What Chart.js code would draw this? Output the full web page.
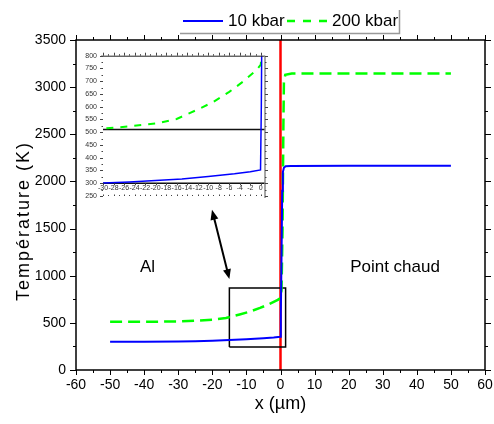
<!DOCTYPE html>
<html><head><meta charset="utf-8">
<script src="https://cdn.jsdelivr.net/npm/chart.js@4"></script>
<style>
html,body{margin:0;padding:0;background:#fff;}
#wrap{position:relative;width:494px;height:424px;overflow:hidden;}
#main{position:absolute;left:0;top:0;}
#inset{position:absolute;left:70px;top:40px;}
</style>
</head><body>
<div id="wrap"><canvas id="main" width="494" height="424"></canvas><canvas id="inset" width="210" height="170"></canvas></div>
<script>
// ---- data ----
const blueLabel = '10 kbar';
const greenLabel = '200 kbar';
const xBlue = [-50,-40,-30,-25,-20,-15,-10,-5,-2,-0.05,0.1,0.3,0.5,0.7,1,1.5,3,20,50];
const yBlue = [300,300,301,305,311,317,326,337,345,352,600,1200,1900,2100,2145,2160,2163,2165,2165];
const xGreen = [-50,-40,-30,-25,-20,-16,-12,-9,-6,-3.4,-0.8,0,0.3,0.6,0.85,1,1.4,3.3,20,50];
const yGreen = [512,512,514,523,534,552,589,619,658,698,744,765,850,1500,2600,3050,3130,3145,3145,3145];
const xRed = [0,0];
const yRed = [0,3500];
const xBox = [-15,1.5,1.5,-15,-15];
const yBox = [245,245,870,870,245];
const arrowX = [-20.1,-15.0];
const arrowY = [1700,964];
const noteText = ['Al','Point chaud'];
const noteX = [-39,33.6];
const noteY = [1084,1084];
const xRef = [-30,0.8];
const yRefLow = [300,300];
const yRefHigh = [511,511];
const yTitle = 'Température (K)';
const xTitle = 'x (µm)';

const toPts = (xs, ys) => xs.map((x, i) => ({x: x, y: ys[i]}));
const FONT = "'Liberation Sans', Arial, sans-serif";
Chart.defaults.font.family = FONT;
Chart.defaults.color = '#000';

const framePlugin = {
  id: 'frame',
  afterDraw(chart) {
    const {ctx, chartArea: a, scales: {x, y}} = chart;
    ctx.save();
    ctx.strokeStyle = '#000';
    ctx.lineWidth = 1.5;
    ctx.strokeRect(a.left, a.top, a.right - a.left, a.bottom - a.top);
    ctx.lineWidth = 1;
    ctx.beginPath();
    for (let v = x.min; v <= x.max + 1e-9; v += 5) {
      const major = Math.abs(v % 10) < 1e-9;
      const L = major ? 5 : 3;
      const px = Math.round(x.getPixelForValue(v)) + 0.5;
      ctx.moveTo(px, a.bottom); ctx.lineTo(px, a.bottom + L);
      ctx.moveTo(px, a.top); ctx.lineTo(px, a.top - L);
    }
    for (let v = y.min; v <= y.max + 1e-9; v += 250) {
      const major = Math.abs(v % 500) < 1e-9;
      const L = major ? 6 : 3;
      const py = Math.round(y.getPixelForValue(v)) + 0.5;
      ctx.moveTo(a.left, py); ctx.lineTo(a.left - L, py);
      ctx.moveTo(a.right, py); ctx.lineTo(a.right + L, py);
    }
    ctx.stroke();
    // y title
    ctx.font = '18px ' + FONT;
    ctx.letterSpacing = '2px';
    ctx.fillStyle = '#000';
    ctx.textAlign = 'center';
    ctx.textBaseline = 'middle';
    ctx.translate(24, 221);
    ctx.rotate(-Math.PI / 2);
    ctx.fillText(yTitle, 0, 0);
    ctx.restore();
  }
};

const legendPlugin = {
  id: 'customLegend',
  afterDraw(chart) {
    const ctx = chart.ctx;
    const ds = chart.data.datasets;
    ctx.save();
    ctx.strokeStyle = '#999';
    ctx.lineWidth = 1.5;
    ctx.beginPath();
    ctx.moveTo(180, 33.5); ctx.lineTo(399.5, 33.5); ctx.lineTo(399.5, 10);
    ctx.stroke();
    const items = [{d: ds[0], x0: 183, tx: 228, dash: []}, {d: ds[1], x0: 287, tx: 332, dash: [8, 8]}];
    ctx.font = '17px ' + FONT;
    ctx.textBaseline = 'middle';
    ctx.textAlign = 'left';
    items.forEach(it => {
      ctx.strokeStyle = it.d.borderColor;
      ctx.lineWidth = it.d.borderWidth;
      ctx.setLineDash(it.dash);
      ctx.beginPath();
      ctx.moveTo(it.x0, 21); ctx.lineTo(it.x0 + 40, 21);
      ctx.stroke();
      ctx.fillStyle = '#000';
      ctx.fillText(it.d.label, it.tx, 21);
    });
    ctx.restore();
  }
};

const notePlugin = {
  id: 'notes',
  afterDraw(chart) {
    const {ctx, scales: {x, y}} = chart;
    ctx.save();
    ctx.font = '17px ' + FONT;
    ctx.fillStyle = '#000';
    ctx.textAlign = 'center';
    ctx.textBaseline = 'middle';
    noteText.forEach((t, i) => ctx.fillText(t, x.getPixelForValue(noteX[i]), y.getPixelForValue(noteY[i])));
    // double arrow
    const x1 = x.getPixelForValue(arrowX[0]), y1 = y.getPixelForValue(arrowY[0]);
    const x2 = x.getPixelForValue(arrowX[1]), y2 = y.getPixelForValue(arrowY[1]);
    const ang = Math.atan2(y2 - y1, x2 - x1);
    const hl = 10, hw = 4;
    ctx.strokeStyle = '#000';
    ctx.lineWidth = 2;
    ctx.beginPath();
    ctx.moveTo(x1 + Math.cos(ang) * hl * 0.8, y1 + Math.sin(ang) * hl * 0.8);
    ctx.lineTo(x2 - Math.cos(ang) * hl * 0.8, y2 - Math.sin(ang) * hl * 0.8);
    ctx.stroke();
    const head = (px, py, a) => {
      ctx.beginPath();
      ctx.moveTo(px, py);
      ctx.lineTo(px - Math.cos(a) * hl + Math.sin(a) * hw, py - Math.sin(a) * hl - Math.cos(a) * hw);
      ctx.lineTo(px - Math.cos(a) * hl - Math.sin(a) * hw, py - Math.sin(a) * hl + Math.cos(a) * hw);
      ctx.closePath();
      ctx.fillStyle = '#000';
      ctx.fill();
    };
    head(x2, y2, ang);
    head(x1, y1, ang + Math.PI);
    ctx.restore();
  }
};

const plain = v => String(v);

new Chart(document.getElementById('main'), {
  type: 'line',
  data: {
    datasets: [
      {label: blueLabel, data: toPts(xBlue, yBlue), borderColor: '#0000ff', borderWidth: 2, pointRadius: 0, tension: 0},
      {label: greenLabel, data: toPts(xGreen, yGreen), borderColor: '#00ff00', borderWidth: 2.5, borderDash: [12, 6], pointRadius: 0, tension: 0},
      {label: 'zoom', data: toPts(xBox, yBox), borderColor: '#000', borderWidth: 1.5, pointRadius: 0, tension: 0},
      {label: 'interface', data: toPts(xRed, yRed), borderColor: '#ff0000', borderWidth: 2.5, pointRadius: 0, tension: 0}
    ]
  },
  options: {
    responsive: false,
    animation: false,
    events: [],
    layout: {padding: {left: 0, top: 40, right: 9, bottom: 0}},
    plugins: {legend: {display: false}, tooltip: {enabled: false}},
    scales: {
      x: {
        type: 'linear', min: -60, max: 60,
        ticks: {stepSize: 10, font: {size: 14}, padding: 7, color: '#000', maxRotation: 0, autoSkip: false, callback: plain},
        grid: {display: false, drawTicks: false},
        border: {display: false},
        title: {display: true, text: xTitle, font: {size: 18}, color: '#000', padding: {top: 0, bottom: 9}},
        afterFit(s) { s.height = 54; s.paddingLeft = 0; s.paddingRight = 0; }
      },
      y: {
        type: 'linear', min: 0, max: 3500,
        ticks: {stepSize: 500, font: {size: 14}, padding: 10, color: '#000', callback: plain},
        grid: {display: false, drawTicks: false},
        border: {display: false},
        afterFit(s) { s.width = 76; s.paddingTop = 0; s.paddingBottom = 0; }
      }
    }
  },
  plugins: [framePlugin, legendPlugin, notePlugin]
});

const insetFrame = {
  id: 'insetFrame',
  afterDraw(chart) {
    const {ctx, chartArea: a, scales: {x, y}} = chart;
    ctx.save();
    ctx.lineWidth = 1;
    ctx.strokeStyle = '#222';
    ctx.beginPath();
    ctx.moveTo(a.left - 2, a.top + 0.5); ctx.lineTo(a.right, a.top + 0.5);
    ctx.stroke();
    ctx.strokeStyle = '#888';
    ctx.lineWidth = 1.5;
    ctx.beginPath();
    ctx.moveTo(a.right, a.top); ctx.lineTo(a.right, a.bottom + 2);
    ctx.stroke();
    ctx.lineWidth = 1;
    ctx.strokeStyle = '#444';
    ctx.beginPath();
    for (let v = y.min; v <= y.max + 1e-9; v += 25) {
      const major = Math.abs(v % 50) < 1e-9;
      const py = Math.round(y.getPixelForValue(v)) + 0.5;
      ctx.moveTo(a.left, py); ctx.lineTo(a.left - (major ? 3 : 1.5), py);
      ctx.moveTo(a.right, py); ctx.lineTo(a.right + (major ? 3 : 1.5), py);
    }
    const base = y.getPixelForValue(yRefLow[0]);
    for (let v = x.min; v <= 0 + 1e-9; v += 1) {
      const major = Math.abs(v % 2) < 1e-9;
      const px = Math.round(x.getPixelForValue(v)) + 0.5;
      ctx.moveTo(px, a.top); ctx.lineTo(px, a.top - (major ? 3 : 1.5));
      if (major) { ctx.moveTo(px, base); ctx.lineTo(px, base + 2); }
      ctx.moveTo(px, a.bottom); ctx.lineTo(px, a.bottom - (major ? 1.5 : 1));
    }
    ctx.stroke();
    ctx.restore();
  }
};

new Chart(document.getElementById('inset'), {
  type: 'line',
  data: {
    datasets: [
      {label: blueLabel, data: toPts(xBlue, yBlue), borderColor: '#0000ff', borderWidth: 1.5, pointRadius: 0, tension: 0},
      {label: greenLabel, data: toPts(xGreen, yGreen), borderColor: '#00ff00', borderWidth: 2, borderDash: [7, 7], pointRadius: 0, tension: 0},
      {label: 'ref300', data: toPts(xRef, yRefLow), borderColor: '#111', borderWidth: 1.5, pointRadius: 0},
      {label: 'ref511', data: toPts(xRef, yRefHigh), borderColor: '#111', borderWidth: 1.5, pointRadius: 0}
    ]
  },
  options: {
    responsive: false,
    animation: false,
    events: [],
    layout: {padding: {left: 0, top: 15.7, right: 15, bottom: 14}},
    plugins: {legend: {display: false}, tooltip: {enabled: false}},
    scales: {
      x: {
        type: 'linear', min: -30, max: 0.8, position: {y: 300},
        ticks: {stepSize: 2, includeBounds: false, autoSkip: false, maxRotation: 0, font: {size: 7}, padding: 1, color: '#333', callback: plain},
        grid: {display: false, drawTicks: false},
        border: {display: false},
        afterFit(s) { s.paddingLeft = 0; s.paddingRight = 0; }
      },
      y: {
        type: 'linear', min: 250, max: 800,
        ticks: {stepSize: 50, autoSkip: false, font: {size: 7}, padding: 6, color: '#333', callback: plain},
        grid: {display: false, drawTicks: false},
        border: {display: false},
        afterFit(s) { s.width = 33; s.paddingTop = 0; s.paddingBottom = 0; }
      }
    }
  },
  plugins: [insetFrame]
});
</script>
</body></html>
